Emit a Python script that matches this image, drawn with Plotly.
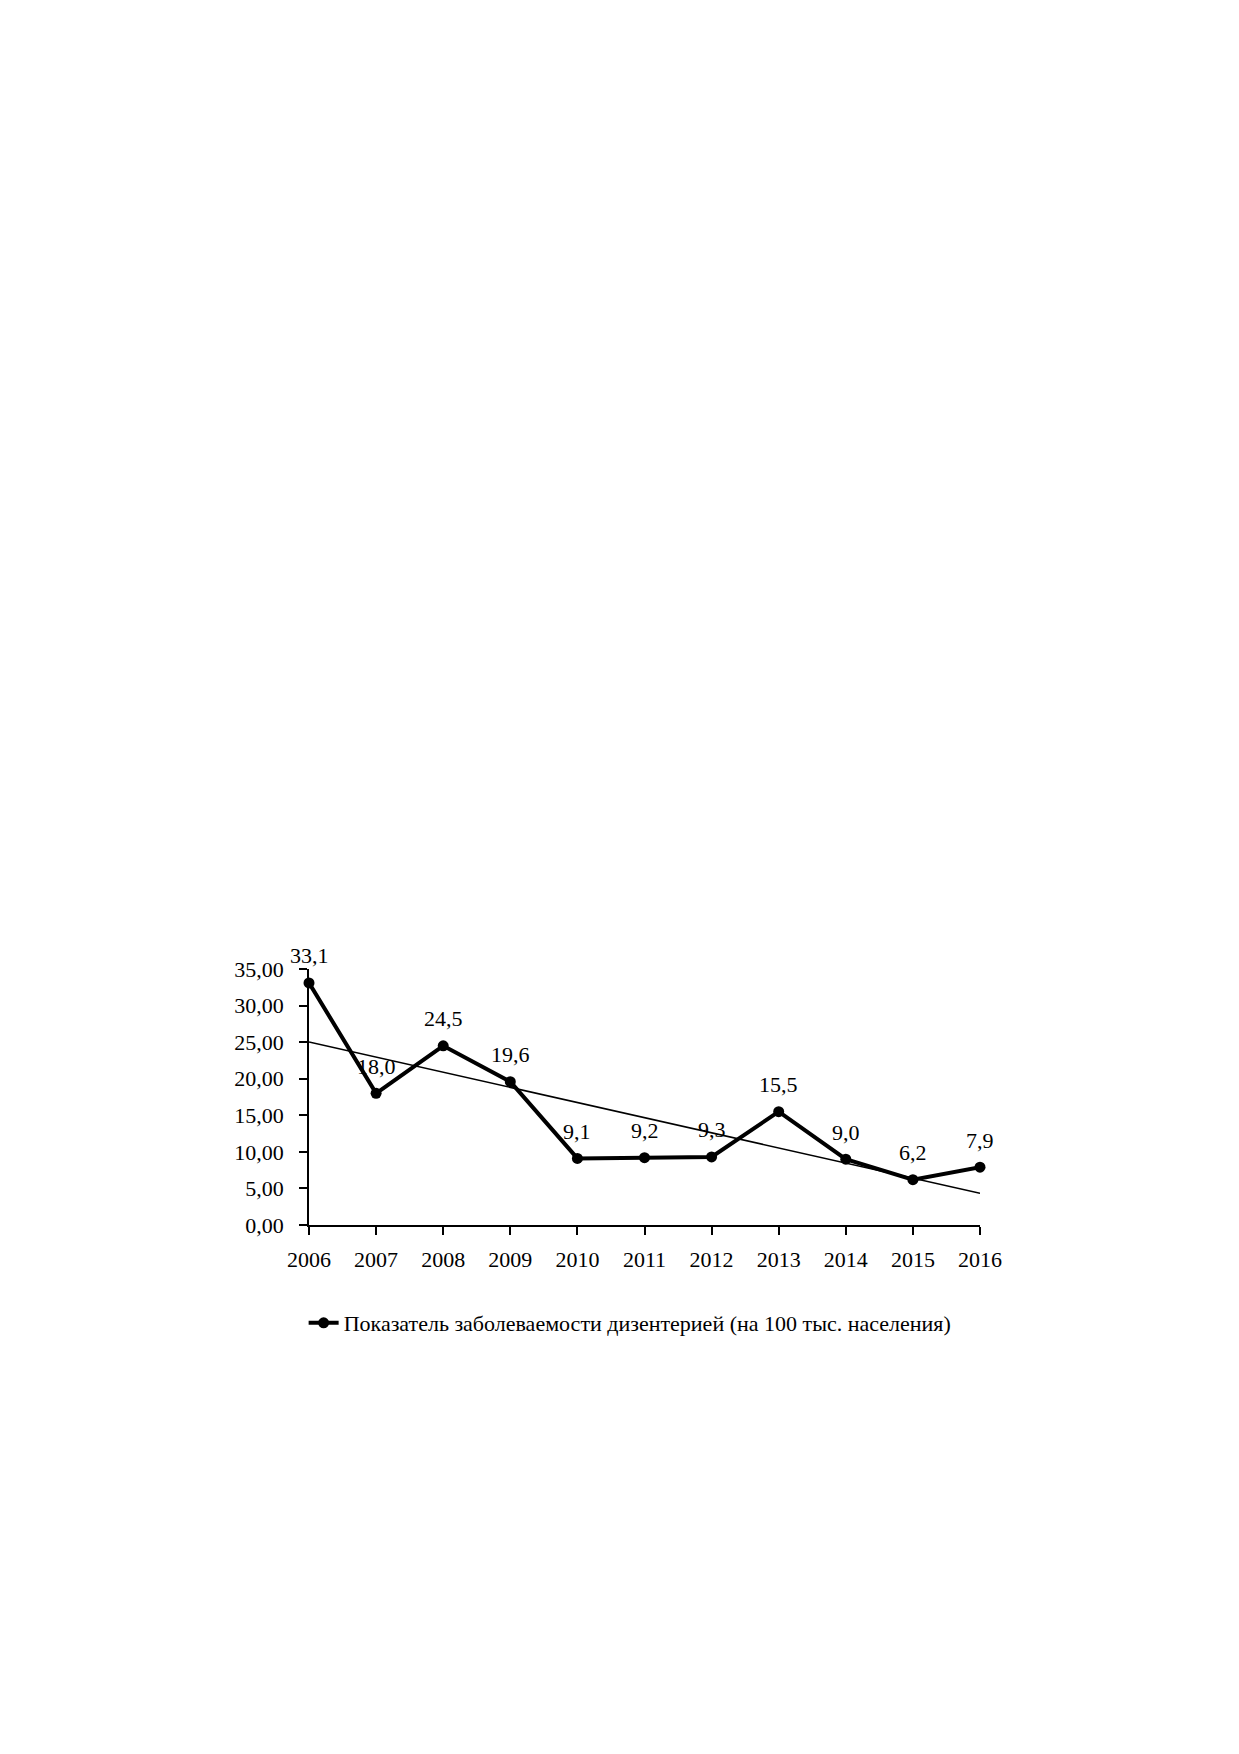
import numpy as np
import plotly.graph_objects as go

# Заболеваемость дизентерией, на 100 тыс. населения
years = [2006, 2007, 2008, 2009, 2010, 2011, 2012, 2013, 2014, 2015, 2016]
rate = [33.1, 18.0, 24.5, 19.6, 9.1, 9.2, 9.3, 15.5, 9.0, 6.2, 7.9]
series_name = "Показатель заболеваемости дизентерией (на 100 тыс. населения)"

labels = [f"{v:.1f}".replace(".", ",") for v in rate]

# linear trend (as in the Excel trendline)
k, b = np.polyfit(years, rate, 1)
trend = [k * x + b for x in years]

W, H = 1239, 1754
# page body has an 8px margin, so plot area offsets are shifted by it
left, right = 301, 972
top, bottom = 961, 1217

fig = go.Figure()
fig.add_trace(go.Scatter(
    x=years, y=trend, mode="lines",
    line=dict(color="black", width=1.5),
    showlegend=False, hoverinfo="skip",
))
fig.add_trace(go.Scatter(
    x=years, y=rate, mode="lines+markers",
    name=series_name,
    line=dict(color="black", width=4),
    marker=dict(color="black", size=11),
    cliponaxis=False,
))

for x, y, t in zip(years, rate, labels):
    fig.add_annotation(
        x=x, y=y, text=t, showarrow=False,
        yshift=27, yanchor="middle", xanchor="center",
        font=dict(size=22, color="black"),
    )

fig.update_layout(
    width=W, height=H,
    margin=dict(l=left, r=W - right, t=top, b=H - bottom),
    paper_bgcolor="white", plot_bgcolor="white",
    font=dict(family="Liberation Serif", size=22, color="black"),
    separators=", ",
    showlegend=True,
    legend=dict(
        orientation="h", x=-0.008, xanchor="left",
        y=-0.383, yanchor="middle",
        font=dict(size=22), bgcolor="rgba(0,0,0,0)",
    ),
)
fig.update_xaxes(
    range=[2006, 2016], tickmode="linear", dtick=1,
    showline=True, linecolor="black", linewidth=1.5,
    ticks="outside", ticklen=8, tickcolor="black", tickwidth=1.5,
    showgrid=False, zeroline=False, ticklabelstandoff=6,
    tickfont=dict(size=22),
)
fig.update_yaxes(
    range=[0, 35], tickmode="linear", dtick=5, tickformat=".2f",
    showline=True, linecolor="black", linewidth=1.5,
    ticks="outside", ticklen=8, tickcolor="black", tickwidth=1.5,
    showgrid=False, zeroline=False, ticklabelstandoff=11,
    tickfont=dict(size=22),
)

fig.write_html("out.html")
